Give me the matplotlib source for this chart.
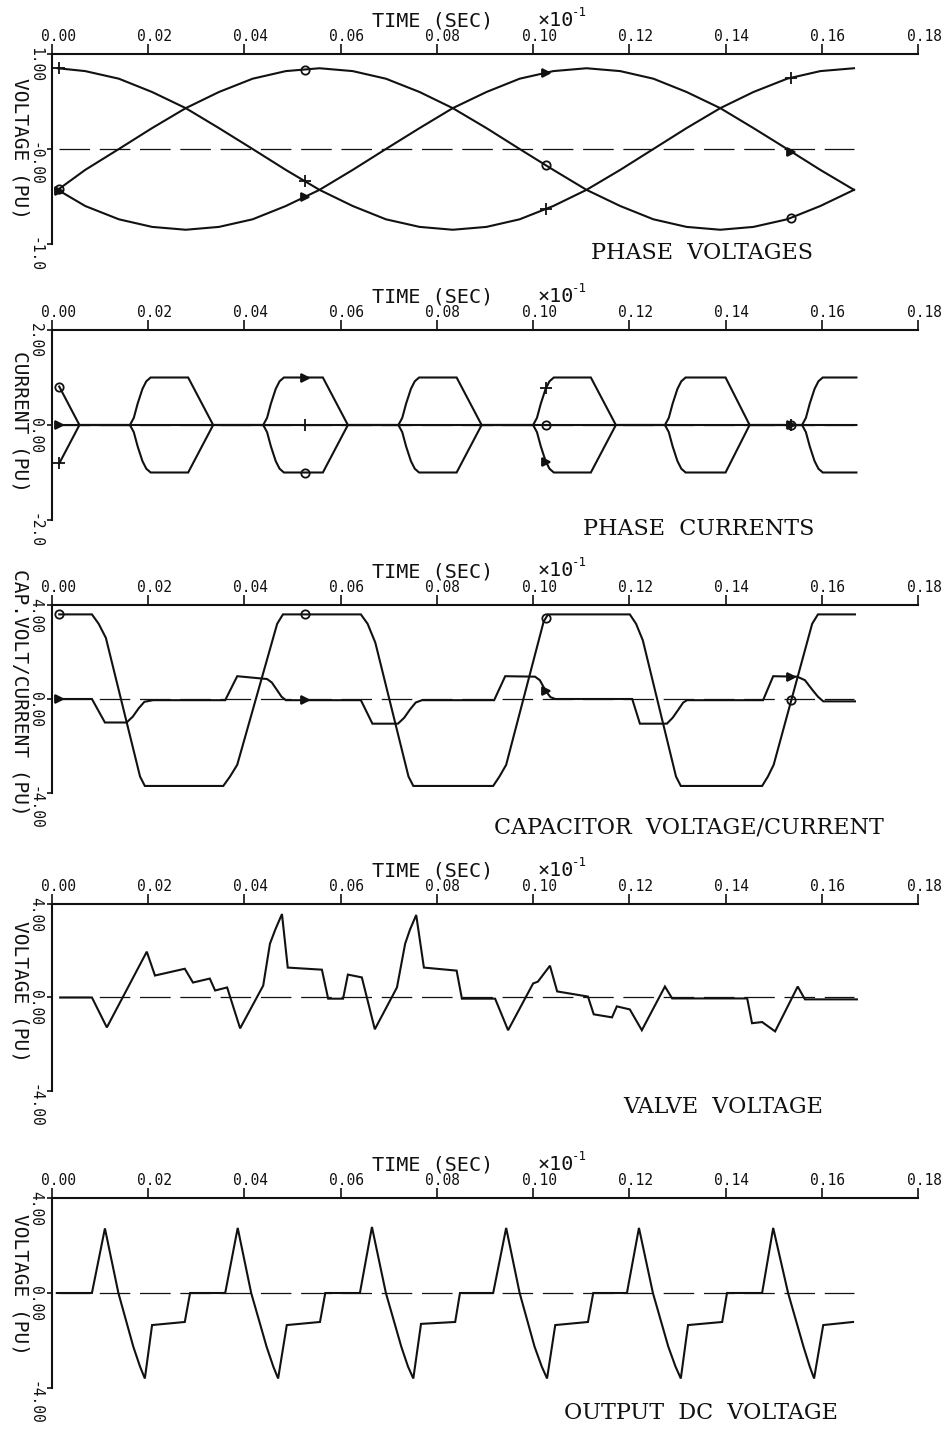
import numpy as np
import matplotlib
matplotlib.use("Agg")
import matplotlib.pyplot as plt
from matplotlib.transforms import ScaledTranslation

plt.rcParams["lines.scale_dashes"] = False

# ---------------------------------------------------------------- time axis
time_ticks = [0.00, 0.02, 0.04, 0.06, 0.08, 0.10, 0.12, 0.14, 0.16, 0.18]
time_tick_text = ["0.00", "0.02", "0.04", "0.06", "0.08",
                  "0.10", "0.12", "0.14", "0.16", "0.18"]
zero_span = [0.0015, 0.1667]
marker_t = [0.0015, 0.0525, 0.1027, 0.1537]

# ---------------------------------------------------------------- phase voltages
t_phase = [0.0012, 0.0069, 0.0139, 0.0208, 0.0278, 0.0347, 0.0417, 0.0486,
           0.0556, 0.0625, 0.0694, 0.0764, 0.0833, 0.0903, 0.0972, 0.1042,
           0.1111, 0.1181, 0.1250, 0.1319, 0.1389, 0.1458, 0.1528, 0.1597,
           0.1667]
v_phase_a = [0.85, 0.82, 0.74, 0.60, 0.43, 0.22, 0.00, -0.22, -0.43, -0.60,
             -0.74, -0.82, -0.85, -0.82, -0.74, -0.60, -0.43, -0.22, 0.00,
             0.22, 0.43, 0.60, 0.74, 0.82, 0.85]
v_phase_b = [-0.43, -0.22, 0.00, 0.22, 0.43, 0.60, 0.74, 0.82, 0.85, 0.82,
             0.74, 0.60, 0.43, 0.22, 0.00, -0.22, -0.43, -0.60, -0.74, -0.82,
             -0.85, -0.82, -0.74, -0.60, -0.43]
v_phase_c = [-0.43, -0.60, -0.74, -0.82, -0.85, -0.82, -0.74, -0.60, -0.43,
             -0.22, 0.00, 0.22, 0.43, 0.60, 0.74, 0.82, 0.85, 0.82, 0.74,
             0.60, 0.43, 0.22, 0.00, -0.22, -0.43]

# ---------------------------------------------------------------- phase currents
# conduction pulses: start, end of flat top, back at zero
pulse_start = [0.0162, 0.0439, 0.0720, 0.1000, 0.1274, 0.1559]
pulse_top_end = [0.0283, 0.0563, 0.0841, 0.1120, 0.1400, 0.1672]
pulse_zero = [0.0335, 0.0615, 0.0893, 0.1172, 0.1450, None]
# rising edge of a pulse (time after start, current)
edge_dt = [0.0, 0.0008, 0.0016, 0.0026, 0.0034, 0.0043]
edge_i = [0.0, 0.15, 0.45, 0.76, 0.92, 1.00]
# polarity of each phase in every pulse
sign_a = [0, -1, -1, 0, 1, 1]
sign_b = [-1, 0, 1, 1, 0, -1]
sign_c = [1, 1, 0, -1, -1, 0]
# opening segment of each phase
start_a = ([0.0015, 0.0057], [0.81, 0.0])
start_b = ([0.0015, 0.0057], [-0.81, 0.0])
start_c = ([0.0015, 0.0057], [0.0, 0.0])
t_end_current = 0.1672

# ---------------------------------------------------------------- capacitor
t_cap_v = [0.0015, 0.0083, 0.0097, 0.0112, 0.0183, 0.0193, 0.0356, 0.0370,
           0.0385, 0.0468, 0.0480, 0.0642, 0.0656, 0.0672, 0.0741, 0.0751,
           0.0917, 0.0930, 0.0944, 0.1022, 0.1031, 0.1201, 0.1214, 0.1228,
           0.1297, 0.1307, 0.1476, 0.1488, 0.1500, 0.1580, 0.1592, 0.1669]
cap_v = [3.6, 3.6, 3.2, 2.6, -3.3, -3.7, -3.7, -3.3, -2.8, 3.2, 3.6, 3.6,
         3.2, 2.4, -3.3, -3.7, -3.7, -3.3, -2.8, 3.3, 3.6, 3.6, 3.2, 2.5,
         -3.3, -3.7, -3.7, -3.3, -2.8, 3.2, 3.6, 3.6]

t_cap_i = [0.0015, 0.0083, 0.0110, 0.0155, 0.0168, 0.0180, 0.0192, 0.0210,
           0.0360, 0.0385, 0.0447, 0.0457, 0.0467, 0.0477, 0.0486,
           0.0642, 0.0666, 0.0719, 0.0732, 0.0744, 0.0756, 0.0769,
           0.0919, 0.0942, 0.1004, 0.1014, 0.1026, 0.1036, 0.1046,
           0.1206, 0.1222, 0.1278, 0.1290, 0.1302, 0.1312, 0.1320,
           0.1478, 0.1499, 0.1549, 0.1565, 0.1580, 0.1592, 0.1603, 0.1669]
cap_i = [0.0, 0.0, -1.0, -1.0, -0.75, -0.40, -0.12, -0.05,
         -0.05, 0.97, 0.85, 0.70, 0.40, 0.10, -0.05,
         -0.05, -1.05, -1.05, -0.80, -0.45, -0.15, -0.05,
         -0.05, 0.97, 0.95, 0.80, 0.35, 0.08, 0.0,
         0.0, -1.05, -1.05, -0.80, -0.45, -0.15, -0.05,
         -0.05, 0.97, 0.95, 0.80, 0.40, 0.10, -0.10, -0.10]

# ---------------------------------------------------------------- valve voltage
t_valve = [0.0017, 0.0083, 0.0114, 0.0197, 0.0214, 0.0276, 0.0293, 0.0328,
           0.0339, 0.0364, 0.0391, 0.0439, 0.0453, 0.0464, 0.0478, 0.0490,
           0.0561, 0.0574, 0.0605, 0.0615, 0.0644, 0.0671, 0.0717, 0.0734,
           0.0744, 0.0757, 0.0773, 0.0841, 0.0852, 0.0921, 0.0948, 0.1000,
           0.1010, 0.1035, 0.1050, 0.1114, 0.1126, 0.1164, 0.1174, 0.1201,
           0.1226, 0.1274, 0.1289, 0.1445, 0.1455, 0.1476, 0.1503, 0.1550,
           0.1565, 0.1673]
valve_v = [0.0, 0.0, -1.28, 1.96, 0.94, 1.23, 0.64, 0.81,
           0.30, 0.43, -1.32, 0.51, 2.30, 2.90, 3.57, 1.28,
           1.19, -0.05, -0.05, 0.98, 0.86, -1.36, 0.43, 2.30,
           2.90, 3.53, 1.28, 1.15, -0.05, -0.05, -1.40, 0.60,
           0.68, 1.36, 0.26, 0.04, -0.72, -0.85, -0.38, -0.51,
           -1.40, 0.47, -0.04, -0.04, -1.10, -1.05, -1.45, 0.47,
           -0.08, -0.08]

# ---------------------------------------------------------------- output dc voltage
t_dc = [0.0010, 0.0083, 0.0110, 0.0138, 0.0169, 0.0183, 0.0193, 0.0208, 0.0276, 0.0287,
        0.0360, 0.0386, 0.0414, 0.0446, 0.0460, 0.0470, 0.0488, 0.0557, 0.0568,
        0.0640, 0.0665, 0.0694, 0.0726, 0.0740, 0.0751, 0.0767, 0.0838, 0.0848,
        0.0917, 0.0944, 0.0972, 0.1003, 0.1018, 0.1029, 0.1046, 0.1114, 0.1125,
        0.1195, 0.1220, 0.1249, 0.1281, 0.1296, 0.1307, 0.1322, 0.1393, 0.1403,
        0.1476, 0.1499, 0.1530, 0.1562, 0.1575, 0.1584, 0.1603, 0.1665]
dc_v = [0.0, 0.0, 2.72, 0.0, -2.26, -3.1, -3.6, -1.35, -1.22, 0.0,
        0.0, 2.74, 0.0, -2.26, -3.1, -3.6, -1.35, -1.22, 0.0,
        0.0, 2.78, 0.0, -2.26, -3.1, -3.6, -1.30, -1.22, 0.0,
        0.0, 2.74, 0.0, -2.26, -3.1, -3.6, -1.35, -1.22, 0.0,
        0.0, 2.74, 0.0, -2.26, -3.1, -3.6, -1.35, -1.22, 0.0,
        0.0, 2.74, 0.0, -2.26, -3.1, -3.6, -1.35, -1.22]


def current_trace(start, signs):
    t, i = list(start[0]), list(start[1])
    for ts, te, tz, s in zip(pulse_start, pulse_top_end, pulse_zero, signs):
        if s == 0:
            continue
        t += [ts + d for d in edge_dt]
        i += [s * e for e in edge_i]
        t.append(te)
        i.append(float(s))
        if tz is not None:
            t.append(tz)
            i.append(0.0)
    if t[-1] < t_end_current:
        t.append(t_end_current)
        i.append(i[-1])
    return t, i


# ---------------------------------------------------------------- figure
W, H = 951, 1429
fig = plt.figure(figsize=(W / 100, H / 100), dpi=100)
fig.patch.set_facecolor("white")

MONO = "DejaVu Sans Mono"
SERIF = "DejaVu Serif"
LW = 1.5
INK = "#111111"


def make_axes(top, bottom):
    return fig.add_axes([52 / W, 1 - bottom / H, 866 / W, (bottom - top) / H])


def dress(ax, top, lim, ylabels, ylabel, label_y, caption, caption_xy):
    ax.set_xlim(0, 0.18)
    ax.set_ylim(-lim, lim)
    ax.set_facecolor("none")
    for side in ("right", "bottom"):
        ax.spines[side].set_visible(False)
    for side in ("top", "left"):
        ax.spines[side].set_linewidth(1.5)
        ax.spines[side].set_color(INK)
    ax.xaxis.tick_top()
    ax.set_xticks(time_ticks)
    ax.set_xticklabels(time_tick_text, fontfamily=MONO, fontsize=10.5)
    ax.tick_params(axis="x", direction="out", length=7, width=1.2, pad=0,
                   colors=INK)
    ax.set_yticks([lim, 0, -lim])
    ax.set_yticklabels(ylabels, fontfamily=MONO, fontsize=10.5)
    ax.tick_params(axis="y", direction="out", length=3.6, width=1.2, pad=3,
                   colors=INK)
    xshift = ScaledTranslation(0.06, 0, fig.dpi_scale_trans)
    for tick in ax.xaxis.get_major_ticks():
        tick.label2.set_transform(tick.label2.get_transform() + xshift)
    yshift = ScaledTranslation(0, 0.07, fig.dpi_scale_trans)
    for tick in ax.yaxis.get_major_ticks():
        lab = tick.label1
        lab.set_rotation(270)
        lab.set_va("top")
        lab.set_ha("right")
        lab.set_transform(lab.get_transform() + yshift)
    ax.set_ylabel(ylabel, fontfamily=MONO, fontsize=14, rotation=270,
                  va="center", ha="center", color=INK)
    ax.yaxis.set_label_coords(-0.037, label_y)
    ax.hlines(0, zero_span[0], zero_span[1], colors=INK, linewidth=0.9,
              linestyles=(0, (22, 7)), zorder=1)
    # time caption above the top axis
    fig.text(372 / W, 1 - (top - 33) / H, "TIME (SEC)", fontfamily=MONO,
             fontsize=14.5, ha="left", va="center", color=INK)
    fig.text(538 / W, 1 - (top - 34) / H, "×10", fontfamily=MONO,
             fontsize=14.5, ha="left", va="center", color=INK)
    fig.text(572 / W, 1 - (top - 42) / H, "-1", fontfamily=MONO,
             fontsize=9, ha="left", va="center", color=INK)
    fig.text(caption_xy[0] / W, 1 - caption_xy[1] / H, caption,
             fontfamily=SERIF, fontsize=16, ha="center", va="center",
             color=INK)


def curve(ax, t, v, marker=None, ms=6, filled=False):
    ax.plot(t, v, color=INK, lw=LW, zorder=3, solid_joinstyle="miter")
    if marker is not None:
        mv = np.interp(marker_t, t, v)
        ax.plot(marker_t, mv, linestyle="none", marker=marker, ms=ms,
                mew=1.3, mec=INK, mfc=INK if filled else "none", zorder=4)


# panel 1: phase voltages
ax1 = make_axes(54, 244)
dress(ax1, 54, 1.0, ["1.00", "-0.00", "-1.0"], "VOLTAGE (PU)", 0.505,
      "PHASE  VOLTAGES", (702, 253))
curve(ax1, t_phase, v_phase_a, "+", ms=8)
curve(ax1, t_phase, v_phase_b, "o", ms=6)
curve(ax1, t_phase, v_phase_c, ">", ms=6, filled=True)

# panel 2: phase currents
ax2 = make_axes(330, 520)
dress(ax2, 330, 2.0, ["2.00", "0.00", "-2.0"], "CURRENT (PU)", 0.52,
      "PHASE  CURRENTS", (699, 529))
ta, ia = current_trace(start_a, sign_a)
tb, ib = current_trace(start_b, sign_b)
tc, ic = current_trace(start_c, sign_c)
curve(ax2, ta, ia, "o", ms=6)
curve(ax2, tb, ib, "+", ms=8)
curve(ax2, tc, ic, ">", ms=6, filled=True)

# panel 3: capacitor voltage / current
ax3 = make_axes(605, 793)
dress(ax3, 605, 4.0, ["4.00", "0.00", "-4.00"], "CAP.VOLT/CURRENT (PU)",
      0.537, "CAPACITOR  VOLTAGE/CURRENT", (689, 827))
curve(ax3, t_cap_v, cap_v, "o", ms=6)
curve(ax3, t_cap_i, cap_i, ">", ms=6, filled=True)

# panel 4: valve voltage
ax4 = make_axes(904, 1091)
dress(ax4, 904, 4.0, ["4.00", "0.00", "-4.00"], "VOLTAGE (PU)", 0.53,
      "VALVE  VOLTAGE", (723, 1107))
curve(ax4, t_valve, valve_v)

# panel 5: output dc voltage
ax5 = make_axes(1198, 1388)
dress(ax5, 1198, 4.0, ["4.00", "0.00", "-4.00"], "VOLTAGE (PU)", 0.547,
      "OUTPUT  DC  VOLTAGE", (701, 1413))
curve(ax5, t_dc, dc_v)

fig.savefig("out.png", dpi=100, facecolor="white")
